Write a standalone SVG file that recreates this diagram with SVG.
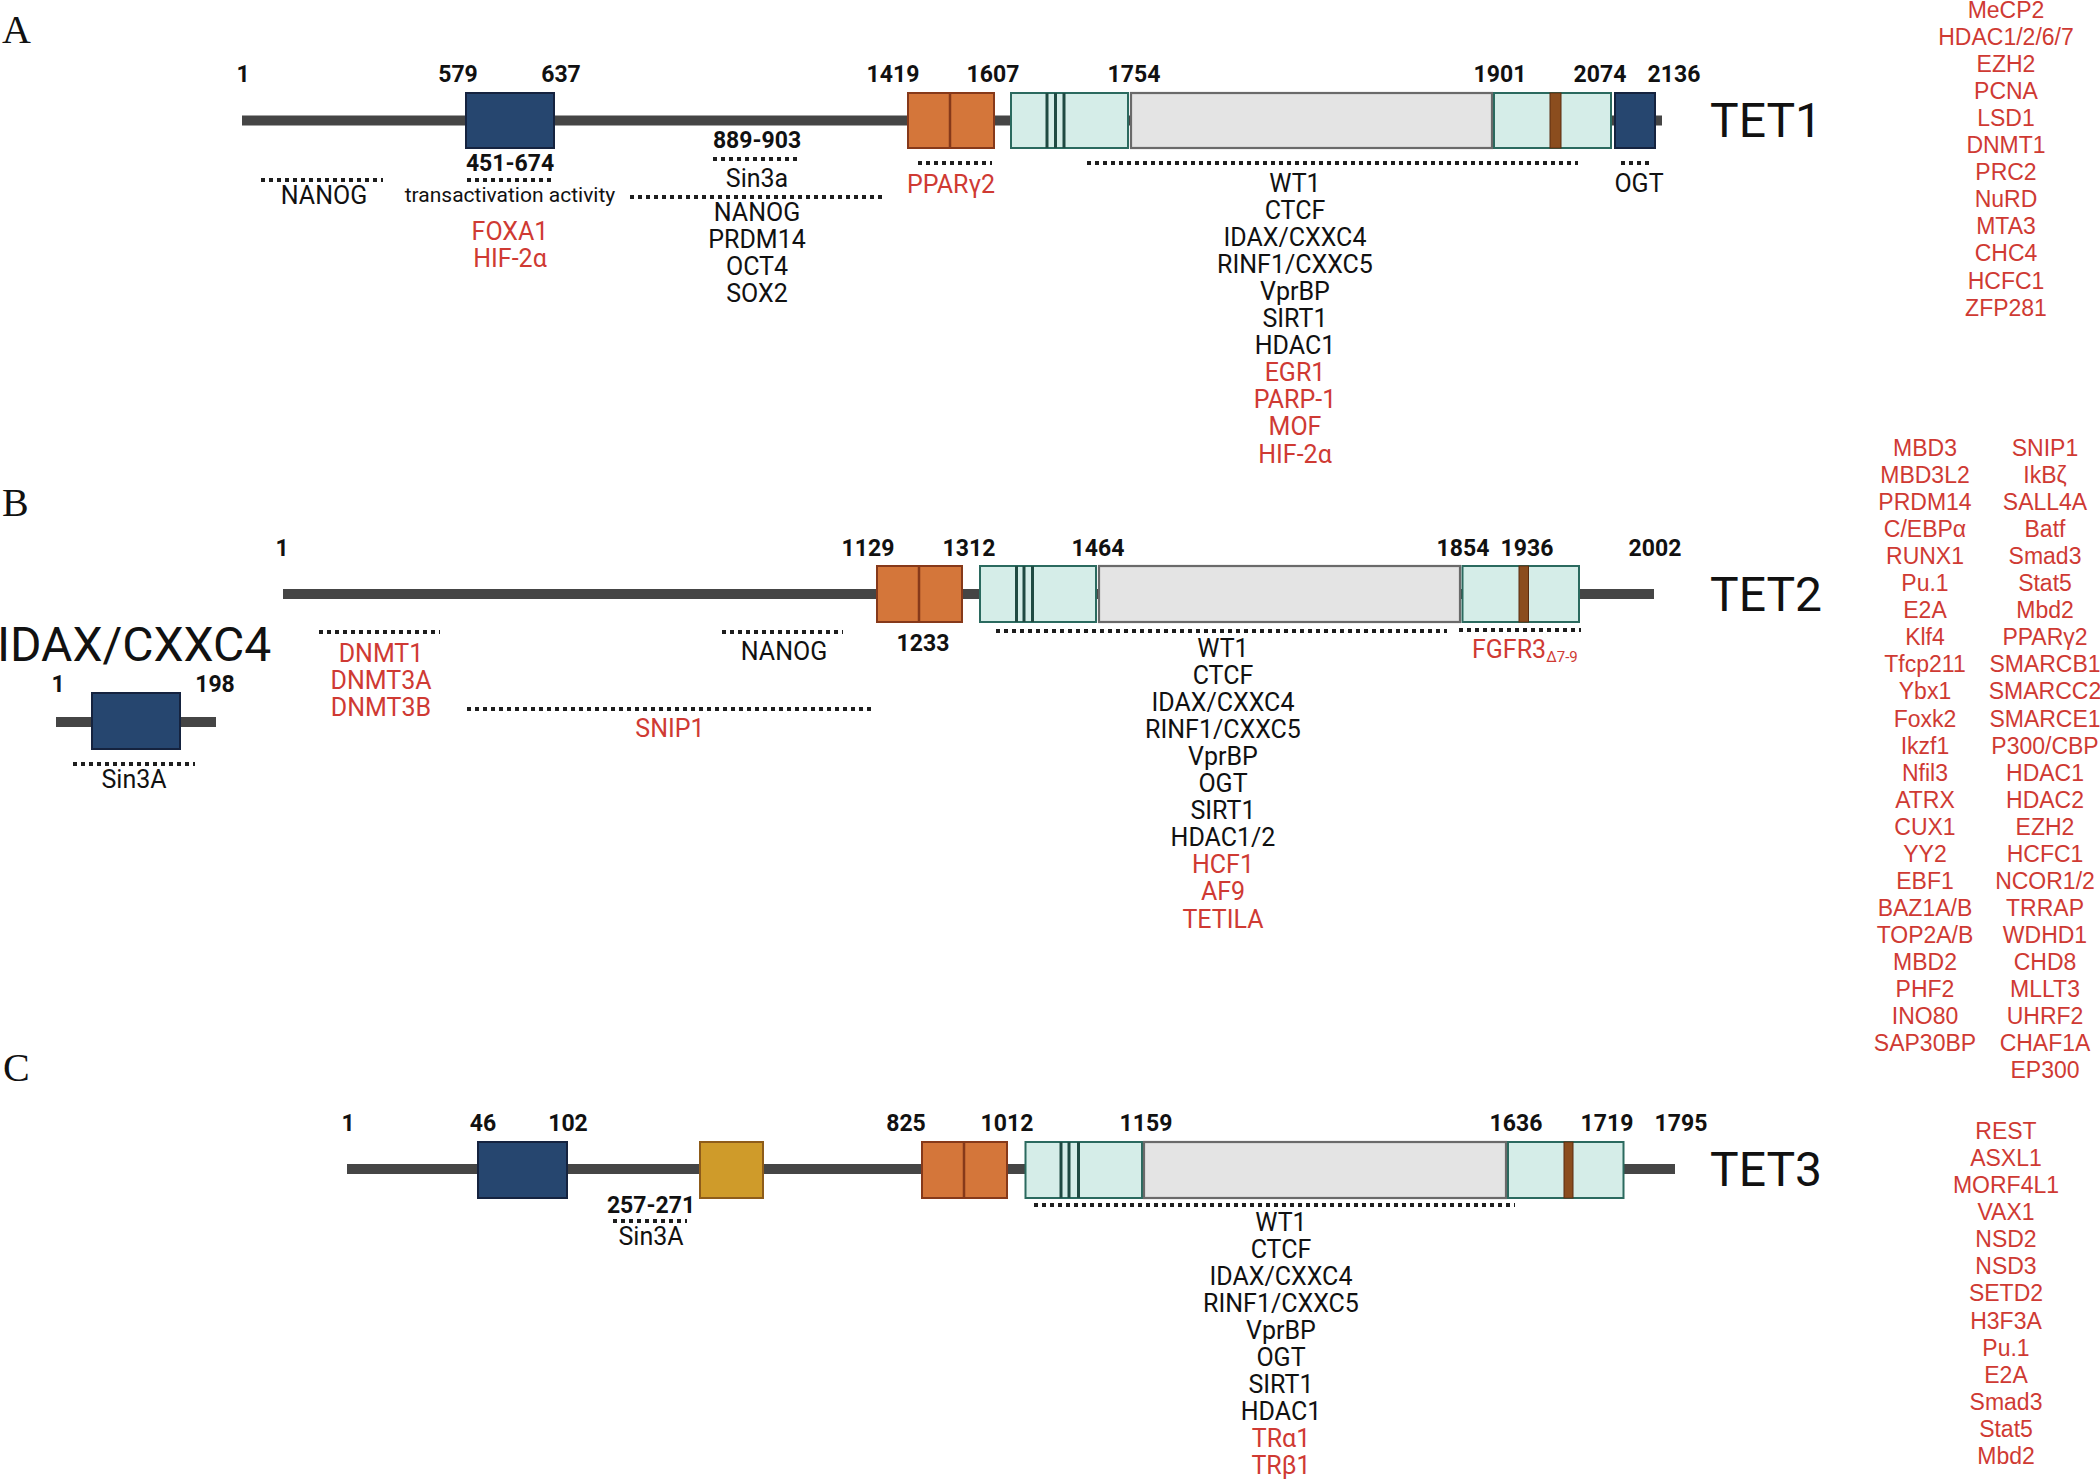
<svg xmlns="http://www.w3.org/2000/svg" width="2100" height="1480" viewBox="0 0 2100 1480">
<style>
  .bb{stroke:#454545;stroke-width:10;fill:none}
  .blue{fill:#26466f;stroke:#15233f;stroke-width:2}
  .orange{fill:#d4763a;stroke:#86391a;stroke-width:2}
  .gold{fill:#cf9b2a;stroke:#8e5c1a;stroke-width:2}
  .teal{fill:#d5ede8;stroke:#2b6a5f;stroke-width:2}
  .gray{fill:#e4e4e4;stroke:#6a6a6a;stroke-width:2.2}
  .brown{fill:#8b4d1e;stroke:#5a2c10;stroke-width:1}
  .div{stroke:#86391a;stroke-width:2.5}
  .zn{stroke:#1f4a42;stroke-width:3}
  .dot{stroke:#1e1e1e;stroke-width:4;stroke-dasharray:4 4;fill:none}
  .num{font-family:Roboto,"Liberation Sans",sans-serif;font-weight:700;font-size:23px;fill:#111;text-anchor:middle}
  .lbl{font-family:Roboto,"Liberation Sans",sans-serif;font-size:25px;fill:#111;text-anchor:middle}
  .sm{font-size:21px}
  .red{fill:#cf3a33}
  .big{font-family:Roboto,"Liberation Sans",sans-serif;font-size:48px;fill:#111}
  .col{font-family:"Liberation Sans",Arial,sans-serif;font-size:23px;fill:#cf3a33;text-anchor:middle}
  .pl{font-family:"Liberation Serif","Times New Roman",serif;font-size:40px;fill:#111}
</style>

<!-- Panel letters -->
<text class="pl" x="2" y="43">A</text>
<text class="pl" x="2" y="516">B</text>
<text class="pl" x="3" y="1081">C</text>

<!-- TET1 -->
<g id="tet1">
  <line class="bb" x1="242" y1="120.5" x2="1662" y2="120.5"/>
  <rect class="blue" x="466" y="93" width="88" height="55"/>
  <rect class="orange" x="908" y="93" width="86" height="55"/>
  <line class="div" x1="950" y1="93" x2="950" y2="148"/>
  <rect class="teal" x="1011" y="93" width="117" height="55"/>
  <line class="zn" x1="1047" y1="93" x2="1047" y2="148"/>
  <line class="zn" x1="1055.5" y1="93" x2="1055.5" y2="148"/>
  <line class="zn" x1="1064" y1="93" x2="1064" y2="148"/>
  <rect class="gray" x="1131" y="93" width="361" height="55"/>
  <rect class="teal" x="1494" y="93" width="117" height="55"/>
  <rect class="brown" x="1550" y="93" width="11" height="55"/>
  <rect class="blue" x="1615" y="93" width="40" height="55"/>
  <text class="num" x="243" y="82">1</text>
  <text class="num" x="458" y="82">579</text>
  <text class="num" x="561" y="82">637</text>
  <text class="num" x="893" y="82">1419</text>
  <text class="num" x="993" y="82">1607</text>
  <text class="num" x="1134" y="82">1754</text>
  <text class="num" x="1500" y="82">1901</text>
  <text class="num" x="1600" y="82">2074</text>
  <text class="num" x="1674" y="82">2136</text>
  <text class="big" x="1710" y="137">TET1</text>
  <text class="lbl" x="324" y="204">NANOG</text>
  <text class="num" x="510" y="171">451-674</text>
  <text class="lbl sm" x="510" y="202">transactivation activity</text>
  <text class="lbl red" x="510" y="240">FOXA1<tspan x="510" dy="27">HIF-2α</tspan></text>
  <text class="num" x="757" y="148">889-903</text>
  <text class="lbl" x="757" y="187">Sin3a</text>
  <text class="lbl" x="757" y="221">NANOG<tspan x="757" dy="27">PRDM14</tspan><tspan x="757" dy="27">OCT4</tspan><tspan x="757" dy="27">SOX2</tspan></text>
  <text class="lbl red" x="951" y="193">PPARγ2</text>
  <text class="lbl" x="1295" y="192">WT1<tspan x="1295" dy="27.05">CTCF</tspan><tspan x="1295" dy="27.05">IDAX/CXXC4</tspan><tspan x="1295" dy="27.05">RINF1/CXXC5</tspan><tspan x="1295" dy="27.05">VprBP</tspan><tspan x="1295" dy="27.05">SIRT1</tspan><tspan x="1295" dy="27.05">HDAC1</tspan><tspan x="1295" dy="27.05" class="red">EGR1</tspan><tspan x="1295" dy="27.05" class="red">PARP-1</tspan><tspan x="1295" dy="27.05" class="red">MOF</tspan><tspan x="1295" dy="27.05" class="red">HIF-2α</tspan></text>
  <text class="lbl" x="1639" y="192">OGT</text>
  <text class="col" x="2006" y="18">MeCP2<tspan x="2006" dy="27.05">HDAC1/2/6/7</tspan><tspan x="2006" dy="27.05">EZH2</tspan><tspan x="2006" dy="27.05">PCNA</tspan><tspan x="2006" dy="27.05">LSD1</tspan><tspan x="2006" dy="27.05">DNMT1</tspan><tspan x="2006" dy="27.05">PRC2</tspan><tspan x="2006" dy="27.05">NuRD</tspan><tspan x="2006" dy="27.05">MTA3</tspan><tspan x="2006" dy="27.05">CHC4</tspan><tspan x="2006" dy="27.05">HCFC1</tspan><tspan x="2006" dy="27.05">ZFP281</tspan></text>
</g>

<!-- TET2 -->
<g id="tet2">
  <line class="bb" x1="283" y1="594" x2="1654" y2="594"/>
  <rect class="orange" x="877" y="566" width="85" height="56"/>
  <line class="div" x1="919" y1="566" x2="919" y2="622"/>
  <rect class="teal" x="980" y="566" width="116" height="56"/>
  <line class="zn" x1="1016.5" y1="566" x2="1016.5" y2="622"/>
  <line class="zn" x1="1024" y1="566" x2="1024" y2="622"/>
  <line class="zn" x1="1032.5" y1="566" x2="1032.5" y2="622"/>
  <rect class="gray" x="1099" y="566" width="361" height="56"/>
  <rect class="teal" x="1462.5" y="566" width="116.5" height="56"/>
  <rect class="brown" x="1519" y="566" width="9.5" height="56"/>
  <text class="num" x="282" y="556">1</text>
  <text class="num" x="868" y="556">1129</text>
  <text class="num" x="969" y="556">1312</text>
  <text class="num" x="1098" y="556">1464</text>
  <text class="num" x="1463" y="556">1854</text>
  <text class="num" x="1527" y="556">1936</text>
  <text class="num" x="1655" y="556">2002</text>
  <text class="num" x="923" y="651">1233</text>
  <text class="big" x="1710" y="611">TET2</text>
  <text class="lbl red" x="381" y="662">DNMT1<tspan x="381" dy="27">DNMT3A</tspan><tspan x="381" dy="27">DNMT3B</tspan></text>
  <text class="lbl" x="784" y="660">NANOG</text>
  <text class="lbl red" x="670" y="737">SNIP1</text>
  <text class="lbl" x="1223" y="657">WT1<tspan x="1223" dy="27.05">CTCF</tspan><tspan x="1223" dy="27.05">IDAX/CXXC4</tspan><tspan x="1223" dy="27.05">RINF1/CXXC5</tspan><tspan x="1223" dy="27.05">VprBP</tspan><tspan x="1223" dy="27.05">OGT</tspan><tspan x="1223" dy="27.05">SIRT1</tspan><tspan x="1223" dy="27.05">HDAC1/2</tspan><tspan x="1223" dy="27.05" class="red">HCF1</tspan><tspan x="1223" dy="27.05" class="red">AF9</tspan><tspan x="1223" dy="27.05" class="red">TETILA</tspan></text>
  <text class="lbl red" x="1472" y="658" style="text-anchor:start">FGFR3<tspan font-size="15" dy="4">Δ7-9</tspan></text>
  <text class="col" x="1925" y="456">MBD3<tspan x="1925" dy="27.05">MBD3L2</tspan><tspan x="1925" dy="27.05">PRDM14</tspan><tspan x="1925" dy="27.05">C/EBPα</tspan><tspan x="1925" dy="27.05">RUNX1</tspan><tspan x="1925" dy="27.05">Pu.1</tspan><tspan x="1925" dy="27.05">E2A</tspan><tspan x="1925" dy="27.05">Klf4</tspan><tspan x="1925" dy="27.05">Tfcp211</tspan><tspan x="1925" dy="27.05">Ybx1</tspan><tspan x="1925" dy="27.05">Foxk2</tspan><tspan x="1925" dy="27.05">Ikzf1</tspan><tspan x="1925" dy="27.05">Nfil3</tspan><tspan x="1925" dy="27.05">ATRX</tspan><tspan x="1925" dy="27.05">CUX1</tspan><tspan x="1925" dy="27.05">YY2</tspan><tspan x="1925" dy="27.05">EBF1</tspan><tspan x="1925" dy="27.05">BAZ1A/B</tspan><tspan x="1925" dy="27.05">TOP2A/B</tspan><tspan x="1925" dy="27.05">MBD2</tspan><tspan x="1925" dy="27.05">PHF2</tspan><tspan x="1925" dy="27.05">INO80</tspan><tspan x="1925" dy="27.05">SAP30BP</tspan></text>
  <text class="col" x="2045" y="456">SNIP1<tspan x="2045" dy="27.05">IkBζ</tspan><tspan x="2045" dy="27.05">SALL4A</tspan><tspan x="2045" dy="27.05">Batf</tspan><tspan x="2045" dy="27.05">Smad3</tspan><tspan x="2045" dy="27.05">Stat5</tspan><tspan x="2045" dy="27.05">Mbd2</tspan><tspan x="2045" dy="27.05">PPARγ2</tspan><tspan x="2045" dy="27.05">SMARCB1</tspan><tspan x="2045" dy="27.05">SMARCC2</tspan><tspan x="2045" dy="27.05">SMARCE1</tspan><tspan x="2045" dy="27.05">P300/CBP</tspan><tspan x="2045" dy="27.05">HDAC1</tspan><tspan x="2045" dy="27.05">HDAC2</tspan><tspan x="2045" dy="27.05">EZH2</tspan><tspan x="2045" dy="27.05">HCFC1</tspan><tspan x="2045" dy="27.05">NCOR1/2</tspan><tspan x="2045" dy="27.05">TRRAP</tspan><tspan x="2045" dy="27.05">WDHD1</tspan><tspan x="2045" dy="27.05">CHD8</tspan><tspan x="2045" dy="27.05">MLLT3</tspan><tspan x="2045" dy="27.05">UHRF2</tspan><tspan x="2045" dy="27.05">CHAF1A</tspan><tspan x="2045" dy="27.05">EP300</tspan></text>
</g>

<!-- IDAX/CXXC4 -->
<g id="idax">
  <text class="big" x="-3" y="661">IDAX/CXXC4</text>
  <line class="bb" x1="56" y1="722" x2="216" y2="722"/>
  <rect class="blue" x="92" y="693" width="88" height="56"/>
  <text class="num" x="58" y="692">1</text>
  <text class="num" x="215" y="692">198</text>
  <text class="lbl" x="134" y="788">Sin3A</text>
</g>

<!-- TET3 -->
<g id="tet3">
  <line class="bb" x1="347" y1="1169" x2="1675" y2="1169"/>
  <rect class="blue" x="478" y="1142" width="89" height="56"/>
  <rect class="gold" x="700" y="1142" width="63" height="56"/>
  <rect class="orange" x="922" y="1142" width="85" height="56"/>
  <line class="div" x1="964" y1="1142" x2="964" y2="1198"/>
  <rect class="teal" x="1025.5" y="1142" width="116.5" height="56"/>
  <line class="zn" x1="1061" y1="1142" x2="1061" y2="1198"/>
  <line class="zn" x1="1069" y1="1142" x2="1069" y2="1198"/>
  <line class="zn" x1="1078.5" y1="1142" x2="1078.5" y2="1198"/>
  <rect class="gray" x="1144" y="1142" width="362" height="56"/>
  <rect class="teal" x="1508" y="1142" width="115.5" height="56"/>
  <rect class="brown" x="1564" y="1142" width="9" height="56"/>
  <text class="num" x="348" y="1131">1</text>
  <text class="num" x="483" y="1131">46</text>
  <text class="num" x="568" y="1131">102</text>
  <text class="num" x="906" y="1131">825</text>
  <text class="num" x="1007" y="1131">1012</text>
  <text class="num" x="1146" y="1131">1159</text>
  <text class="num" x="1516" y="1131">1636</text>
  <text class="num" x="1607" y="1131">1719</text>
  <text class="num" x="1681" y="1131">1795</text>
  <text class="big" x="1710" y="1186">TET3</text>
  <text class="num" x="651" y="1213">257-271</text>
  <text class="lbl" x="651" y="1245">Sin3A</text>
  <text class="lbl" x="1281" y="1231">WT1<tspan x="1281" dy="27.05">CTCF</tspan><tspan x="1281" dy="27.05">IDAX/CXXC4</tspan><tspan x="1281" dy="27.05">RINF1/CXXC5</tspan><tspan x="1281" dy="27.05">VprBP</tspan><tspan x="1281" dy="27.05">OGT</tspan><tspan x="1281" dy="27.05">SIRT1</tspan><tspan x="1281" dy="27.05">HDAC1</tspan><tspan x="1281" dy="27.05" class="red">TRα1</tspan><tspan x="1281" dy="27.05" class="red">TRβ1</tspan></text>
  <text class="col" x="2006" y="1139">REST<tspan x="2006" dy="27.08">ASXL1</tspan><tspan x="2006" dy="27.08">MORF4L1</tspan><tspan x="2006" dy="27.08">VAX1</tspan><tspan x="2006" dy="27.08">NSD2</tspan><tspan x="2006" dy="27.08">NSD3</tspan><tspan x="2006" dy="27.08">SETD2</tspan><tspan x="2006" dy="27.08">H3F3A</tspan><tspan x="2006" dy="27.08">Pu.1</tspan><tspan x="2006" dy="27.08">E2A</tspan><tspan x="2006" dy="27.08">Smad3</tspan><tspan x="2006" dy="27.08">Stat5</tspan><tspan x="2006" dy="27.08">Mbd2</tspan></text>
</g>

<!-- binding-region markers (dotted) -->
<g id="connectors">
  <line class="dot" x1="261" y1="180" x2="383" y2="180"/>
  <line class="dot" x1="467" y1="180" x2="552" y2="180"/>
  <line class="dot" x1="713" y1="159" x2="798" y2="159"/>
  <line class="dot" x1="630" y1="197" x2="883" y2="197"/>
  <line class="dot" x1="918" y1="163" x2="992" y2="163"/>
  <line class="dot" x1="1087" y1="163" x2="1578" y2="163"/>
  <line class="dot" x1="1621" y1="163" x2="1653" y2="163"/>
  <line class="dot" x1="319" y1="632" x2="440" y2="632"/>
  <line class="dot" x1="722" y1="632" x2="843" y2="632"/>
  <line class="dot" x1="467" y1="709" x2="874" y2="709"/>
  <line class="dot" x1="996" y1="631" x2="1447" y2="631"/>
  <line class="dot" x1="1459" y1="630" x2="1581" y2="630"/>
  <line class="dot" x1="73" y1="764" x2="195" y2="764"/>
  <line class="dot" x1="613" y1="1221" x2="687" y2="1221"/>
  <line class="dot" x1="1034" y1="1205" x2="1515" y2="1205"/>
</g>
</svg>
